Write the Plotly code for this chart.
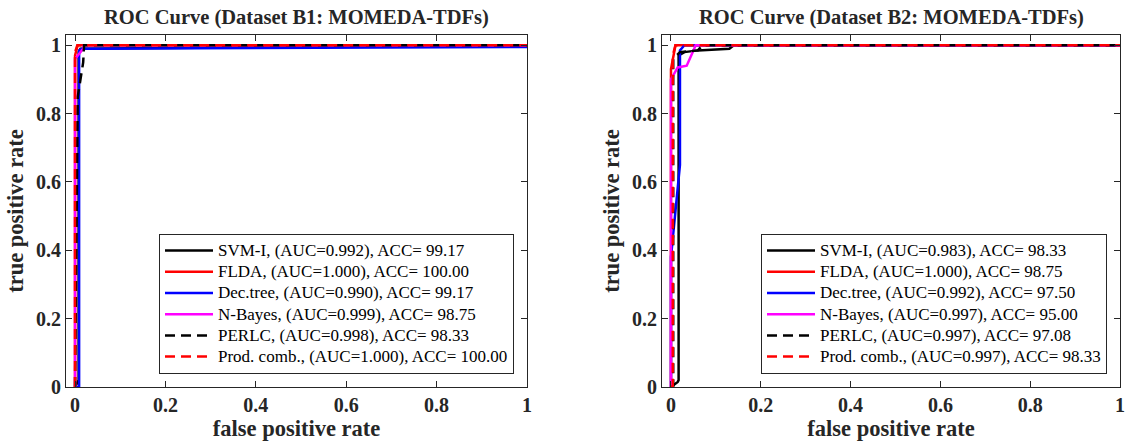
import plotly.graph_objects as go

# ROC curves, dataset B1 (MOMEDA-TDFs)
b1_svm_fpr = [0, 0.008, 0.008, 0.012, 1]
b1_svm_tpr = [0, 0.02, 0.98, 0.99, 1]
b1_flda_fpr = [0, 0, 0.006, 1]
b1_flda_tpr = [0, 0.97, 1, 1]
b1_tree_fpr = [0, 0.009, 0.009, 0.015, 1]
b1_tree_tpr = [0, 0, 0.985, 0.99, 0.995]
b1_nb_fpr = [0, 0, 0.018, 0.02, 1]
b1_nb_tpr = [0, 0.96, 0.99, 1, 1]
b1_perlc_fpr = [0, 0.006, 0.012, 0.018, 0.02, 1]
b1_perlc_tpr = [0, 0.85, 0.9, 0.95, 1, 1]
b1_prod_fpr = [0, 0, 0.005, 1]
b1_prod_tpr = [0, 0.98, 1, 1]

# ROC curves, dataset B2 (MOMEDA-TDFs)
b2_svm_fpr = [0, 0.015, 0.017, 0.017, 0.03, 0.06, 0.13, 0.14, 1]
b2_svm_tpr = [0, 0.015, 0.02, 0.97, 0.98, 0.985, 0.99, 1, 1]
b2_flda_fpr = [0, 0, 0.01, 1]
b2_flda_tpr = [0, 0.93, 1, 1]
b2_tree_fpr = [0, 0, 0.02, 0.02, 0.03, 1]
b2_tree_tpr = [0, 0.38, 0.65, 0.985, 1, 1]
b2_nb_fpr = [0, 0, 0.015, 0.035, 0.05, 0.055, 1]
b2_nb_tpr = [0, 0.9, 0.935, 0.94, 0.985, 1, 1]
b2_perlc_fpr = [0, 0.005, 0.005, 0.02, 0.06, 0.07, 1]
b2_perlc_tpr = [0, 0, 0.96, 0.98, 0.985, 1, 1]
b2_prod_fpr = [0, 0.004, 0.004, 0.01, 1]
b2_prod_tpr = [0, 0, 0.97, 1, 1]

b1_names = ["SVM-I, (AUC=0.992), ACC= 99.17",
            "FLDA, (AUC=1.000), ACC= 100.00",
            "Dec.tree, (AUC=0.990), ACC= 99.17",
            "N-Bayes, (AUC=0.999), ACC= 98.75",
            "PERLC, (AUC=0.998), ACC= 98.33",
            "Prod. comb., (AUC=1.000), ACC= 100.00"]
b2_names = ["SVM-I, (AUC=0.983), ACC= 98.33",
            "FLDA, (AUC=1.000), ACC= 98.75",
            "Dec.tree, (AUC=0.992), ACC= 97.50",
            "N-Bayes, (AUC=0.997), ACC= 95.00",
            "PERLC, (AUC=0.997), ACC= 97.08",
            "Prod. comb., (AUC=0.997), ACC= 98.33"]

titles = ["ROC Curve (Dataset B1: MOMEDA-TDFs)", "ROC Curve (Dataset B2: MOMEDA-TDFs)"]
tick_vals = [0, 0.2, 0.4, 0.6, 0.8, 1]
tick_text = ["0", "0.2", "0.4", "0.6", "0.8", "1"]

colors = ["#000000", "#ff0000", "#0000ff", "#ff00ff", "#000000", "#ff0000"]
dashes = ["solid", "solid", "solid", "solid", "10px,6px", "10px,6px"]

b1 = [(b1_svm_fpr, b1_svm_tpr), (b1_flda_fpr, b1_flda_tpr), (b1_tree_fpr, b1_tree_tpr),
      (b1_nb_fpr, b1_nb_tpr), (b1_perlc_fpr, b1_perlc_tpr), (b1_prod_fpr, b1_prod_tpr)]
b2 = [(b2_svm_fpr, b2_svm_tpr), (b2_flda_fpr, b2_flda_tpr), (b2_tree_fpr, b2_tree_tpr),
      (b2_nb_fpr, b2_nb_tpr), (b2_perlc_fpr, b2_perlc_tpr), (b2_prod_fpr, b2_prod_tpr)]

SERIF = "Liberation Serif, Times New Roman, serif"
INK = "#262626"
W, H = 1127, 448

# legend rows are spaced by the (small) legend font size; entry text is drawn larger
LEGEND_TEXT = '<span style="font-size:17px">{}</span>'

fig = go.Figure()
for (fpr, tpr), name, c, d in zip(b1, b1_names, colors, dashes):
    fig.add_trace(go.Scatter(x=fpr, y=tpr, mode="lines", name=LEGEND_TEXT.format(name),
                             line=dict(color=c, width=2.5, dash=d),
                             xaxis="x", yaxis="y", legend="legend"))
for (fpr, tpr), name, c, d in zip(b2, b2_names, colors, dashes):
    fig.add_trace(go.Scatter(x=fpr, y=tpr, mode="lines", name=LEGEND_TEXT.format(name),
                             line=dict(color=c, width=2.5, dash=d),
                             xaxis="x2", yaxis="y2", legend="legend2"))

# plot boxes in pixels
left_box = (66, 527)
right_box = (662, 1120)
top_px, bottom_px = 35, 387
ydom = [(H - bottom_px) / H, (H - top_px) / H]


def xaxis(dom, anchor):
    return dict(domain=[dom[0] / W, dom[1] / W], anchor=anchor, range=[-0.02, 1],
                tickvals=tick_vals, ticktext=tick_text, ticks="inside", ticklen=6,
                tickcolor=INK, showline=True, linecolor=INK, linewidth=1,
                mirror="allticks", showgrid=False, zeroline=False,
                tickfont=dict(family=SERIF, size=20, color=INK, weight="bold"),
                title=dict(text="<b>false positive rate</b>", standoff=4,
                           font=dict(family=SERIF, size=22.5, color=INK)),
                automargin=False)


def yaxis(anchor):
    return dict(domain=ydom, anchor=anchor, range=[0, 1.03],
                tickvals=tick_vals, ticktext=tick_text, ticks="inside", ticklen=6,
                tickcolor=INK, showline=True, linecolor=INK, linewidth=1,
                mirror="allticks", showgrid=False, zeroline=False,
                tickfont=dict(family=SERIF, size=20, color=INK, weight="bold"),
                title=dict(text="<b>true positive rate</b>", standoff=6,
                           font=dict(family=SERIF, size=22.5, color=INK)),
                automargin=False)


legend_style = dict(bgcolor="white", bordercolor=INK, borderwidth=1,
                    font=dict(family=SERIF, size=14, color="#000000"),
                    xanchor="right", yanchor="bottom", itemwidth=48,
                    tracegroupgap=0)

fig.update_layout(
    width=W, height=H,
    margin=dict(l=0, r=0, t=0, b=0),
    paper_bgcolor="white", plot_bgcolor="white",
    xaxis=xaxis(left_box, "y"), yaxis=yaxis("x"),
    xaxis2=xaxis(right_box, "y2"), yaxis2=yaxis("x2"),
    legend=dict(x=514 / W, y=(H - 374) / H, **legend_style),
    legend2=dict(x=1107 / W, y=(H - 374) / H, **legend_style),
    showlegend=True,
)

for box, t in zip([left_box, right_box], titles):
    fig.add_annotation(text=f"<b>{t}</b>", xref="paper", yref="paper",
                       x=(box[0] + box[1]) / 2 / W, y=(H - 17) / H,
                       xanchor="center", yanchor="middle", showarrow=False,
                       font=dict(family=SERIF, size=20.5, color=INK))

fig.write_html("out.html")
